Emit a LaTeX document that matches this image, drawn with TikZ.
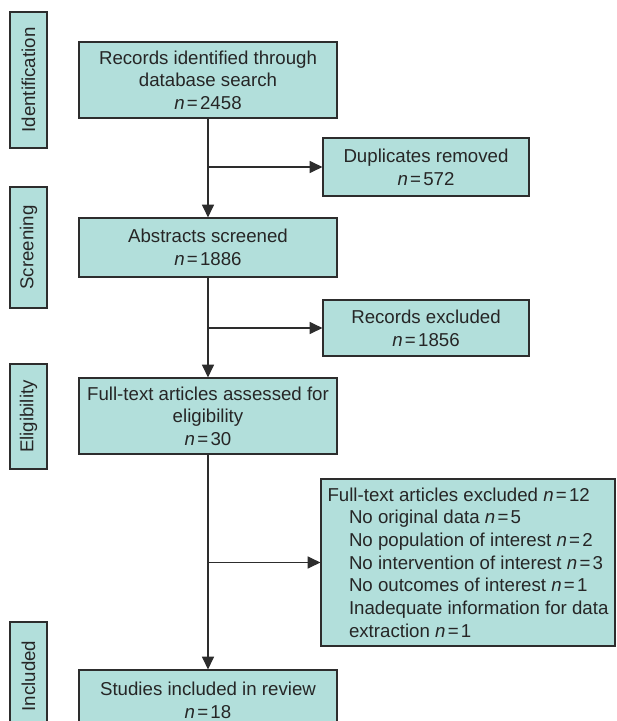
\documentclass[tikz,border=0pt]{standalone}
\usepackage{fontspec}
\setmainfont{Liberation Sans}
\usetikzlibrary{arrows.meta}
\definecolor{boxFill}{RGB}{178,223,219}
\definecolor{lineGrey}{RGB}{45,45,45}
\newcommand{\nCount}[1]{\textit{n}\hspace{0.12em}=\hspace{0.12em}#1}
\newcommand{\sideArrow}[1]{%%
  \draw[arrowStyle] (mainline |- #1.west) -- (#1.west);
}
\newcommand{\ind}{\hspace*{1.15em}}

\begin{document}
\begin{tikzpicture}[%%
  x=0.75pt,y=-0.75pt,%%
  font=\fontsize{14}{17}\selectfont,%%
  boxStyle/.style={draw=lineGrey,line width=0.9pt,fill=boxFill,inner sep=0pt,align=center,text=black!85},%%
  mainStyle/.style={boxStyle,minimum width=193.5pt},%%
  sideStyle/.style={boxStyle,minimum height=27.75pt,rotate=90},%%
  arrowStyle/.style={-{Triangle[length=9.5pt,width=9pt]},line width=0.9pt,lineGrey}%%
]
%%
\useasboundingbox (0,0) rectangle (617,721);
\clip (0,0) rectangle (617,721);
%%
\coordinate (mainline) at (208,0);
%%
%% The stages on the left.
\node[sideStyle,minimum width=102pt] (ident) at (28.5,80) {Identification};
\node[sideStyle,minimum width=90.75pt] (screen) at (28.5,247.5) {Screening};
\node[sideStyle,minimum width=78.75pt] (elig) at (28.5,416.5) {Eligibility};
\node[sideStyle,minimum width=81pt] (incl) at (28.5,676) {Included};
%%
%% The main boxes.
\node[mainStyle,minimum height=57pt] (records) at (208,80)
  {Records identified through\\database search\\\nCount{2458}};
\node[mainStyle,minimum height=44.25pt] (abstracts) at (208,247.5)
  {Abstracts screened\\\nCount{1886}};
\node[mainStyle,minimum height=57pt] (fulltext) at (208,416)
  {Full-text articles assessed for\\eligibility\\\nCount{30}};
\node[mainStyle,minimum height=45pt] (studies) at (208,700)
  {Studies included in review\\\nCount{18}};
%%
%% The boxes on the right.
\node[boxStyle,minimum width=154.5pt,minimum height=43.5pt] (dupl) at (426,167)
  {Duplicates removed\\\nCount{572}};
\node[boxStyle,minimum width=154.5pt,minimum height=42pt] (recexcl) at (426,328)
  {Records excluded\\\nCount{1856}};
\node[boxStyle,minimum width=220.5pt,minimum height=125.25pt,align=left] (ftexcl) at (468,562.5)
  {Full-text articles excluded \nCount{12}\\
   \ind No original data \nCount{5}\\
   \ind No population of interest \nCount{2}\\
   \ind No intervention of interest \nCount{3}\\
   \ind No outcomes of interest \nCount{1}\\
   \ind Inadequate information for data\\
   \ind extraction \nCount{1}};
%%
%% Connectors.
\draw[arrowStyle] (records) -- (abstracts);
\draw[arrowStyle] (abstracts) -- (fulltext);
\draw[arrowStyle] (fulltext) -- (studies);
\sideArrow{dupl}
\sideArrow{recexcl}
\sideArrow{ftexcl}
\end{tikzpicture}
\end{document}
